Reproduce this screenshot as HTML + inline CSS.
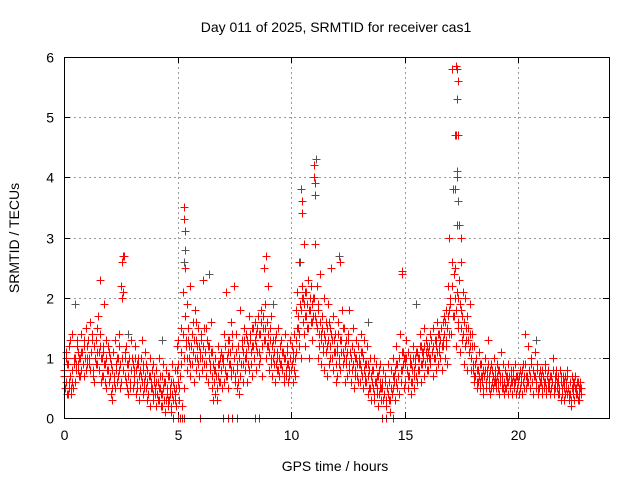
<!DOCTYPE html>
<html><head><meta charset="utf-8"><style>
body{margin:0;background:#fff;}
svg{display:block;font-family:"Liberation Sans",sans-serif;}
</style></head><body>
<svg id="chart" width="640" height="480" viewBox="0 0 640 480">
<text x="336" y="32" font-size="14" text-anchor="middle">Day 011 of 2025, SRMTID for receiver cas1</text>
<text x="335" y="471" font-size="14" text-anchor="middle">GPS time / hours</text>
<text transform="translate(19,238) rotate(-90)" font-size="14" text-anchor="middle">SRMTID / TECUs</text>
<g id="grid"></g>
<g id="ticks"></g>
<g id="gray" stroke="#555" stroke-width="1" shape-rendering="crispEdges"></g>
<g id="red" stroke="#f00" stroke-width="1" shape-rendering="crispEdges"></g>
<rect x="64.5" y="57.5" width="545" height="361" fill="none" stroke="#000" stroke-width="1" shape-rendering="crispEdges"/>
</svg>
<script>
const xTicks=[0,5,10,15,20];
const yTicks=[0,1,2,3,4,5,6];
const hourStep=0.1;
const hourStep2=0.05;
const hourly=[
[0.8,0.5,1.0,0.6,0.9,0.4,0.5,1.2,0.7,0.4,0.6,1.4,0.5,0.9,0.6,1.0,0.8,1.3,0.9,1.1,0.7,1.0,1.4,0.8,1.1,0.9,1.2,0.7,1.0,1.5],
[1.2,0.9,1.3,1.0,1.6,0.8,1.1,1.3,0.7,1.2,0.6,1.0,0.9,1.5,1.1,1.7,0.8,2.3,1.2,0.6,1.0,0.7,1.1,1.9,0.9,1.3,0.5,0.8,1.2,0.6],
[0.6,1.0,0.4,0.8,0.3,1.1,0.7,0.5,1.3,0.9,0.6,1.0,0.8,1.4,0.5,2.2,2.6,2.0,2.1,2.7,1.0,0.7,1.2,0.5,0.9,0.4,1.0,0.6,0.8,1.3],
[1.0,0.5,0.8,0.7,1.2,0.4,0.9,0.6,1.0,0.3,0.8,0.5,0.7,1.3,0.4,0.9,0.6,1.1,0.5,0.3,0.8,0.4,0.7,1.0,0.2,0.6,0.5,0.9,0.3,0.7],
[0.5,0.2,0.8,0.4,0.6,0.3,1.0,0.5,0.2,0.7,0.4,0.9,0.3,0.6,0.1,0.8,0.5,0.3,0.2,0.7,0.4,0.6,0.1,0.9,0.3,0.5,0.8,0.4,0.2,1.2],
[0.6,1.3,0.3,0.0,0.9,1.5,0.2,2.1,0.5,3.3,2.5,1.2,0.8,1.9,1.3,1.0,2.2,0.7,1.2,0.9,1.6,1.1,0.6,1.8,1.3,0.8,1.0,1.5,0.7,1.2],
[1.0,1.4,0.8,1.2,2.3,0.9,1.1,1.5,0.7,1.3,0.6,1.0,1.2,0.9,1.6,0.5,1.1,0.3,0.8,0.4,1.0,0.7,0.3,0.9,1.2,0.6,1.0,0.8,1.1,0.5],
[1.0,0.6,1.4,0.8,2.1,0.7,1.1,0.5,1.3,0.9,1.6,0.7,1.2,0.8,2.2,1.0,0.6,1.4,0.5,0.9,1.2,0.4,0.7,1.8,0.9,1.3,0.6,1.1,1.5,0.8],
[1.0,1.4,0.6,1.2,1.7,0.8,1.3,0.9,1.5,0.7,1.2,1.0,1.6,0.8,1.4,1.1,1.7,0.9,1.4,1.0,1.8,1.2,0.7,1.5,2.5,1.3,1.9,1.0,1.6,2.2],
[1.2,0.8,1.5,1.0,1.7,0.7,1.3,0.9,1.1,0.6,1.4,0.8,1.0,1.5,0.7,1.2,0.9,1.3,0.8,1.1,0.6,1.0,1.4,0.7,0.9,1.2,0.6,0.8,1.0,1.3],
[0.8,1.2,0.6,1.0,1.4,0.7,1.8,1.1,2.1,1.5,2.6,1.2,1.9,1.0,2.2,3.6,2.0,1.4,2.1,1.2,1.7,1.9,2.3,1.5,1.0,1.8,2.2,1.3,1.6,2.0],
[4.2,3.7,2.9,1.6,2.2,1.0,1.8,1.2,2.4,1.4,0.9,1.7,1.1,2.0,0.8,1.3,1.6,0.7,1.2,1.9,0.9,1.5,1.0,2.5,1.3,0.8,1.7,1.1,1.4,0.6],
[1.2,0.7,1.6,1.0,2.6,0.8,1.3,1.8,0.9,1.1,1.5,0.6,1.0,1.3,0.7,1.4,0.9,1.8,1.1,0.6,1.2,0.8,1.5,0.5,1.0,0.7,1.3,0.9,1.2,0.6],
[1.0,0.6,1.4,0.8,1.1,0.5,1.3,0.7,0.9,0.6,1.2,0.4,0.9,0.5,1.0,0.7,0.3,0.8,0.5,1.0,0.3,0.6,0.9,0.4,0.7,0.2,0.8,0.5,0.9,0.3],
[0.6,0.3,0.8,0.4,0.7,0.2,0.0,0.5,0.9,0.3,0.6,0.1,0.8,0.4,1.0,0.5,0.7,0.3,0.9,1.2,0.5,0.7,1.0,0.4,1.4,0.6,2.4,0.8,1.1,0.5],
[1.0,0.6,1.3,0.8,0.5,1.1,0.7,1.0,0.4,0.9,0.6,1.2,0.5,0.8,1.0,0.7,1.1,0.6,1.0,0.8,1.4,0.6,1.2,0.9,1.1,0.7,1.5,0.9,1.3,0.8],
[1.2,0.8,1.0,1.4,0.9,1.3,1.1,0.7,1.5,1.0,1.3,0.8,1.2,1.6,0.9,1.1,1.4,1.0,1.5,0.8,1.2,1.3,1.7,1.0,1.2,1.8,0.9,2.2,1.4,3.0],
[2.0,1.4,2.6,5.8,3.8,1.7,4.7,2.5,1.2,3.2,2.0,1.5,2.3,1.1,2.6,1.8,1.3,2.1,1.6,0.9,2.0,1.3,1.7,0.8,1.5,1.1,1.9,1.2,0.8,1.4],
[0.9,0.6,1.2,0.7,1.0,0.5,0.8,0.6,1.1,0.5,0.9,0.7,0.6,0.4,0.8,0.7,1.0,0.5,0.6,0.8,1.3,0.5,0.7,0.4,0.9,0.6,0.8,0.5,1.0,0.6],
[0.7,0.5,0.9,0.6,0.8,0.4,0.7,1.1,0.5,0.6,0.9,0.4,0.8,0.5,0.7,0.6,0.9,0.4,0.7,0.5,0.6,0.8,0.4,0.7,0.5,0.6,0.9,0.4,0.7,0.5],
[0.6,0.4,0.8,0.5,0.7,0.4,0.6,0.9,0.5,1.4,0.7,0.5,0.6,1.2,0.8,0.5,0.7,1.0,0.6,0.4,0.8,0.7,1.1,0.5,0.6,0.9,0.4,0.7,0.5,0.8],
[0.6,0.8,0.4,0.7,0.5,0.9,0.6,0.4,0.7,0.5,0.8,0.6,0.4,0.7,0.5,0.6,1.0,0.4,0.7,0.5,0.8,0.6,0.4,0.7,0.5,0.8,0.3,0.6,0.4,0.7],
[0.5,0.3,0.7,0.6,0.4,0.8,0.5,0.3,0.6,0.4,0.2,0.7,0.5,0.6,0.3,0.7,0.4,0.5,0.6,0.3,0.5,0.4,0.6,0.5]
];
const hourly2=[
[0.7,1.1,0.4,0.9,0.6,1.3,0.5,0.8,1.0,0.6,0.9,1.2,0.8,1.0,0.7,1.1,0.9,1.3,1.0,0.8],
[1.0,1.3,0.9,1.1,1.4,0.8,1.2,1.0,1.3,0.9,1.1,1.4,1.0,0.7,1.2,0.9,0.6,1.0,0.8,1.1],
[0.7,0.9,0.5,1.1,0.6,0.8,1.0,0.7,1.2,0.9,0.6,1.0,0.8,1.1,0.6,0.9,0.7,1.0,0.5,0.8],
[0.9,0.6,1.0,0.8,0.5,0.9,0.7,1.0,0.6,0.8,0.5,0.7,0.9,0.6,0.4,0.7,0.5,0.8,0.4,0.6],
[0.4,0.6,0.3,0.5,0.7,0.4,0.2,0.5,0.6,0.3,0.4,0.7,0.3,0.5,0.2,0.4,0.6,0.3,0.5,0.8],
[0.9,0.5,0.7,1.1,1.4,1.0,1.7,1.3,1.0,1.5,1.2,0.9,1.4,1.1,1.3,1.0,1.6,1.2,0.9,1.1],
[1.3,1.0,1.2,1.5,1.1,0.9,1.2,1.0,0.8,1.1,0.7,0.9,0.6,0.8,0.5,0.7,0.9,0.6,0.8,1.0],
[0.9,1.2,0.7,1.0,1.3,0.9,1.1,0.8,1.4,1.0,0.7,1.1,0.8,0.6,1.0,0.7,1.2,0.9,1.3,1.0],
[1.1,1.3,0.9,1.4,1.1,1.2,1.5,1.0,1.3,1.2,1.5,1.1,1.4,1.6,1.2,1.7,1.3,1.5,1.2,1.4],
[1.1,1.3,0.9,1.2,1.0,1.3,0.9,1.1,0.8,1.0,1.2,0.9,1.1,0.7,1.0,0.8,1.1,0.9,0.7,1.0],
[0.9,1.1,0.8,1.0,1.3,1.5,1.7,1.4,1.8,2.0,1.6,1.9,1.7,2.1,1.5,1.8,2.0,1.6,1.9,1.7],
[2.0,1.7,1.5,1.9,1.4,1.6,1.3,1.5,1.2,1.4,1.1,1.5,1.3,1.6,1.2,1.4,1.0,1.3,1.1,0.9],
[1.1,1.4,0.9,1.3,1.1,1.5,1.0,1.2,0.9,1.1,1.3,0.8,1.0,1.2,0.9,1.1,0.8,1.0,0.7,0.9],
[0.9,1.1,0.7,1.0,0.8,0.6,0.9,0.7,0.8,0.5,0.7,0.6,0.8,0.4,0.6,0.5,0.7,0.4,0.6,0.5],
[0.5,0.4,0.6,0.3,0.5,0.4,0.6,0.3,0.5,0.7,0.6,0.8,0.6,0.9,0.7,1.0,0.8,1.1,0.9,1.0],
[0.9,1.0,0.8,0.7,0.9,0.6,0.8,1.0,0.7,0.9,1.1,0.8,1.0,1.2,0.9,1.1,1.0,1.2,1.1,1.0],
[1.1,1.2,1.0,1.3,1.1,1.2,1.0,1.3,1.1,1.4,1.2,1.3,1.5,1.2,1.4,1.6,1.3,1.5,1.7,1.8],
[1.9,2.2,1.7,2.4,2.0,1.8,2.1,1.6,1.9,1.5,1.7,1.4,1.6,1.2,1.5,1.3,1.1,1.4,1.0,1.2],
[0.8,0.7,0.9,0.6,0.8,0.7,0.6,0.9,0.7,0.5,0.8,0.6,0.7,0.9,0.6,0.8,0.5,0.7,0.6,0.8],
[0.6,0.7,0.5,0.8,0.6,0.7,0.5,0.6,0.8,0.5,0.7,0.6,0.5,0.7,0.6,0.8,0.5,0.6,0.7,0.5],
[0.7,0.5,0.6,0.8,0.6,0.7,0.9,0.7,0.6,0.8,0.7,0.9,0.6,0.8,0.7,0.6,0.8,0.5,0.7,0.6],
[0.7,0.5,0.6,0.8,0.5,0.7,0.6,0.5,0.7,0.6,0.8,0.5,0.6,0.7,0.5,0.6,0.4,0.7,0.5,0.6],
[0.6,0.4,0.5,0.7,0.4,0.6,0.3,0.5,0.4,0.6,0.5,0.4,0.6,0.3,0.5,0.4]
];
const extraHours=[5.3,5.35,10.45,10.5,10.55,11.0,11.05,17.25,17.3,17.35,17.3,17.25,17.35,17.3,17.2,17.4,2.6,8.9,14.9,17.5,4.8,5.0,5.2,5.3,6.0,7.0,7.2,7.4,7.6,8.4,8.6,14.0,14.5];
const extraVals=[3.5,3.1,3.8,3.4,2.9,4.0,3.9,5.85,5.8,5.6,5.3,4.7,4.7,4.0,3.8,3.2,2.7,2.7,2.45,3.0,0,0,0,0,0,0,0,0,0,0,0,0,0];
const grayHours=[11.1,11.05,17.3,17.35,5.35,5.3,10.4,4.3,6.4,9.2,12.1,15.5,0.5,20.8,2.8,13.4,16.7];
const grayVals=[4.3,3.7,4.1,3.6,2.8,2.6,2.6,1.3,2.4,1.9,2.7,1.9,1.9,1.3,1.4,1.6,1.6];

const X0=64,X1=609,Y0=418,Y1=57;
const xs=h=>X0+(h/24)*(X1-X0);
const ys=v=>Y0-(v/6)*(Y0-Y1);
const NS="http://www.w3.org/2000/svg";
const grid=document.getElementById('grid'),ticks=document.getElementById('ticks');
xTicks.forEach(t=>{
  const x=Math.round(xs(t))+0.5;
  if(t>0){const l=document.createElementNS(NS,'line');
  l.setAttribute('x1',x);l.setAttribute('x2',x);l.setAttribute('y1',Y1);l.setAttribute('y2',Y0);
  l.setAttribute('stroke','#999');l.setAttribute('stroke-dasharray','2,3');
  
  
  grid.appendChild(l);}
  const tk=document.createElementNS(NS,'path');
  tk.setAttribute('d',`M${x},${Y0}v-6M${x},${Y1}v6`);tk.setAttribute('stroke','#000');
  
  
  ticks.appendChild(tk);
  const tx=document.createElementNS(NS,'text');
  tx.setAttribute('x',x);tx.setAttribute('y',Y0+22);tx.setAttribute('font-size','14');tx.setAttribute('text-anchor','middle');
  tx.textContent=t;
  
  
  ticks.appendChild(tx);
});
yTicks.forEach(t=>{
  const y=Math.round(ys(t))+0.5;
  if(t>0&&t<6){const l=document.createElementNS(NS,'line');
  l.setAttribute('x1',X0);l.setAttribute('x2',X1);l.setAttribute('y1',y);l.setAttribute('y2',y);
  l.setAttribute('stroke','#999');l.setAttribute('stroke-dasharray','2,3');
  
  
  grid.appendChild(l);}
  const tk=document.createElementNS(NS,'path');
  tk.setAttribute('d',`M${X0},${y}h6M${X1},${y}h-6`);tk.setAttribute('stroke','#000');
  
  
  ticks.appendChild(tk);
  const tx=document.createElementNS(NS,'text');
  tx.setAttribute('x',X0-10);tx.setAttribute('y',y+5);tx.setAttribute('font-size','14');tx.setAttribute('text-anchor','end');
  tx.textContent=t;
  
  
  ticks.appendChild(tx);
});
function cross(g,h,v,name){
  const x=Math.round(xs(h))+0.5,y=Math.round(ys(v))+0.5;
  const p=document.createElementNS(NS,'path');
  p.setAttribute('d',`M${x-4},${y}h8M${x},${y-4}v8`);
  
  
  g.appendChild(p);
}
const gray=document.getElementById('gray'),red=document.getElementById('red');
grayHours.forEach((h,i)=>cross(gray,h,grayVals[i],'gray-point'));
hourly.forEach((vals,hr)=>{
  vals.forEach((v,i)=>{
    const h=hr+Math.floor(i/3)*hourStep+(i%3)*hourStep/3;
    cross(red,h,v,'red-point');
  });
});
hourly2.forEach((vals,hr)=>{
  vals.forEach((v,i)=>{
    const h=hr+0.02+i*hourStep2;
    cross(red,h,v,'red-point');
  });
});
extraHours.forEach((h,i)=>cross(red,h,extraVals[i],'red-point'));
</script>
</body></html>
